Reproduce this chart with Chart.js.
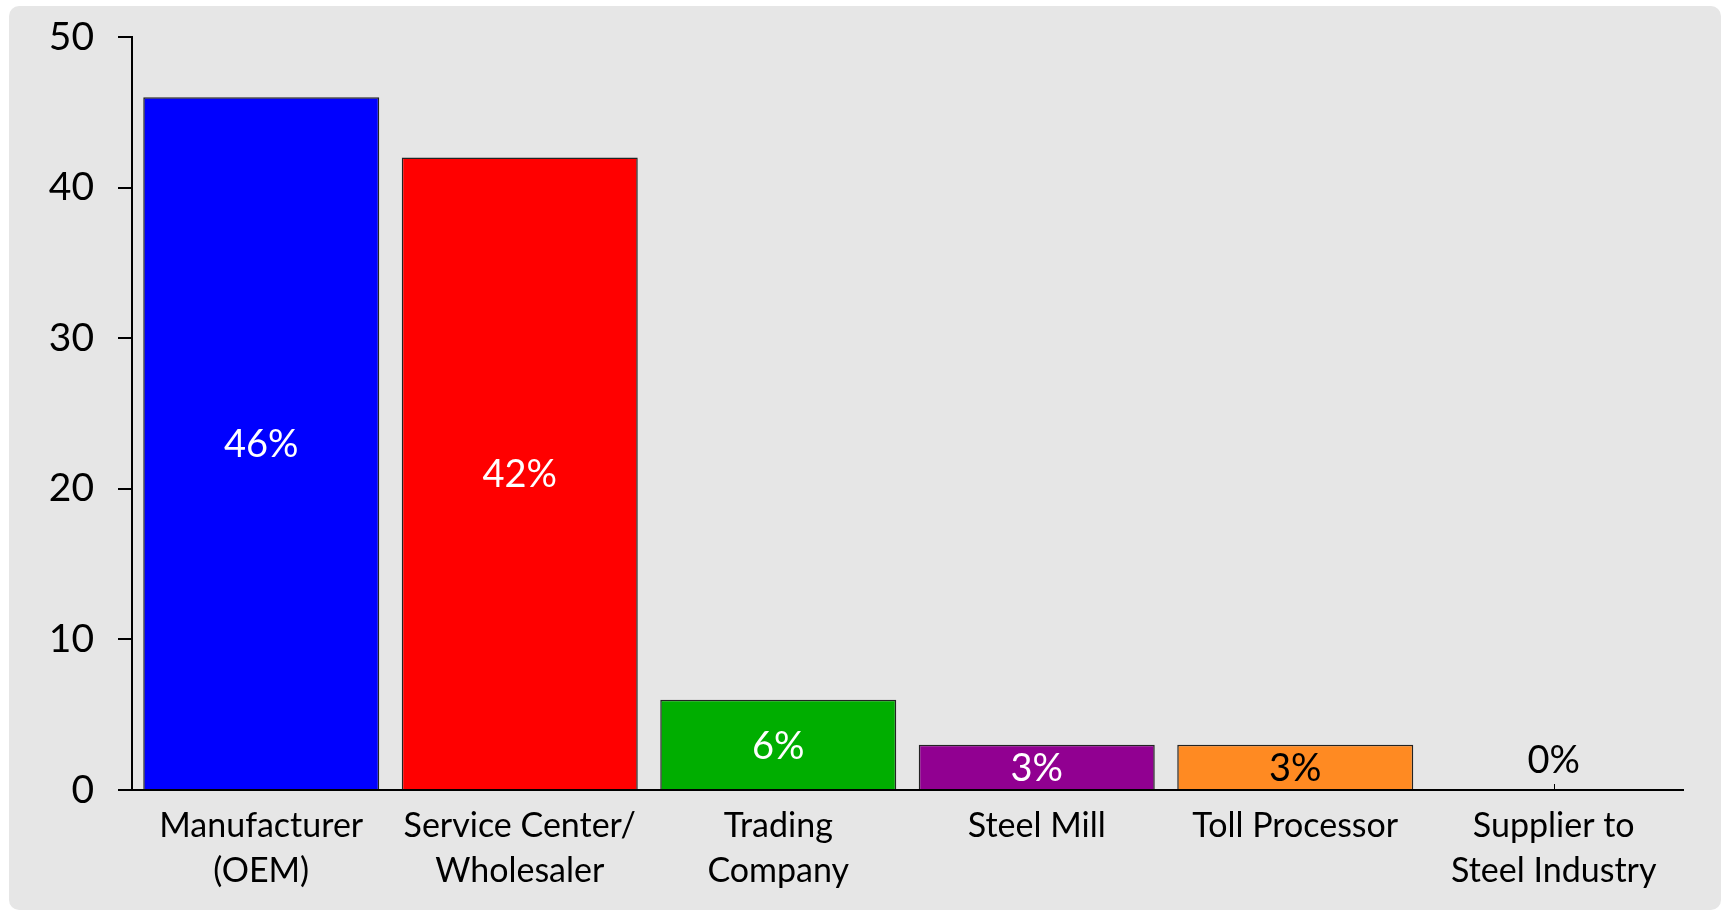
<!DOCTYPE html>
<html>
<head>
<meta charset="utf-8">
<script src="https://cdn.jsdelivr.net/npm/chart.js@4"></script>
<style>
  html, body { margin: 0; padding: 0; background: #ffffff; }
  #wrap { position: relative; width: 1721px; height: 910px; }
  #bg { position: absolute; left: 9px; top: 6px; width: 1712px; height: 904px; background: #e6e6e6; border-radius: 10px; }
  canvas { position: absolute; left: 0; top: 0; }
</style>
</head>
<body>
<div id="wrap">
  <div id="bg"></div>
  <canvas id="c" width="1721" height="910"></canvas>
</div>
<script>
const categories = [
  ['Manufacturer', '(OEM)'],
  ['Service Center/', 'Wholesaler'],
  ['Trading', 'Company'],
  ['Steel Mill'],
  ['Toll Processor'],
  ['Supplier to', 'Steel Industry']
];
const values = [46, 42, 6, 3, 3, 0];
const valueLabels = ['46%', '42%', '6%', '3%', '3%', '0%'];
const barColors = ['#0000ff', '#ff0000', '#00ae00', '#910091', '#ff8a22', '#999999'];
const labelColors = ['#ffffff', '#ffffff', '#ffffff', '#ffffff', '#000000', '#000000'];
const yTicks = [0, 10, 20, 30, 40, 50];

const FONT = 'Lato, Carlito, "Open Sans", sans-serif';

const dataLabelPlugin = {
  id: 'dataLabels',
  beforeDatasetsDraw(chart) {
    const ctx = chart.ctx;
    const xs = chart.scales.x;
    const ys = chart.scales.y;
    ctx.save();
    ctx.strokeStyle = '#000';
    ctx.lineWidth = 1;
    categories.forEach((c, i) => {
      const x = Math.round(xs.getPixelForValue(i)) + 0.5;
      const y0 = ys.getPixelForValue(0);
      ctx.beginPath();
      ctx.moveTo(x, y0);
      ctx.lineTo(x, y0 - 6);
      ctx.stroke();
    });
    ctx.restore();
  },
  afterDatasetsDraw(chart) {
    const ctx = chart.ctx;
    const meta = chart.getDatasetMeta(0);
    ctx.save();
    ctx.font = '38px ' + FONT;
    ctx.textAlign = 'center';
    ctx.textBaseline = 'middle';
    meta.data.forEach((bar, i) => {
      ctx.fillStyle = labelColors[i];
      const top = bar.y, base = bar.base;
      if (values[i] === 0) {
        ctx.fillText(valueLabels[i], bar.x, base - 29);
      } else {
        ctx.fillText(valueLabels[i], bar.x, (top + base) / 2 + 2);
      }
    });
    ctx.restore();
  }
};

new Chart(document.getElementById('c'), {
  type: 'bar',
  data: {
    labels: categories,
    datasets: [{
      data: values,
      backgroundColor: barColors,
      borderColor: 'rgba(0,0,0,0.85)',
      borderWidth: 1.5,
      borderSkipped: 'bottom',
      categoryPercentage: 1.0,
      barPercentage: 0.913
    }]
  },
  options: {
    responsive: false,
    animation: false,
    devicePixelRatio: 1,
    layout: { padding: { left: 0, right: 38, top: 37, bottom: 0 } },
    plugins: { legend: { display: false }, tooltip: { enabled: false } },
    scales: {
      x: {
        grid: { display: false, drawTicks: false },
        border: { display: true, color: '#000', width: 2 },
        ticks: {
          color: '#000',
          font: { family: FONT, size: 34, lineHeight: 1.32 },
          padding: 14,
          maxRotation: 0,
          autoSkip: false
        },
        afterFit(scale) { scale.height = 120; scale.paddingLeft = 0; scale.paddingRight = 0; }
      },
      y: {
        min: 0,
        max: 50,
        afterBuildTicks(scale) { scale.ticks = yTicks.map(v => ({ value: v })); },
        grid: { drawOnChartArea: false, drawTicks: true, tickLength: 14, color: '#000', lineWidth: 2 },
        border: { display: true, color: '#000', width: 2 },
        ticks: {
          color: '#000',
          font: { family: FONT, size: 39 },
          padding: 24
        },
        afterFit(scale) { scale.width = 132; scale.paddingTop = 0; scale.paddingBottom = 0; }
      }
    }
  },
  plugins: [dataLabelPlugin]
});
</script>
</body>
</html>
